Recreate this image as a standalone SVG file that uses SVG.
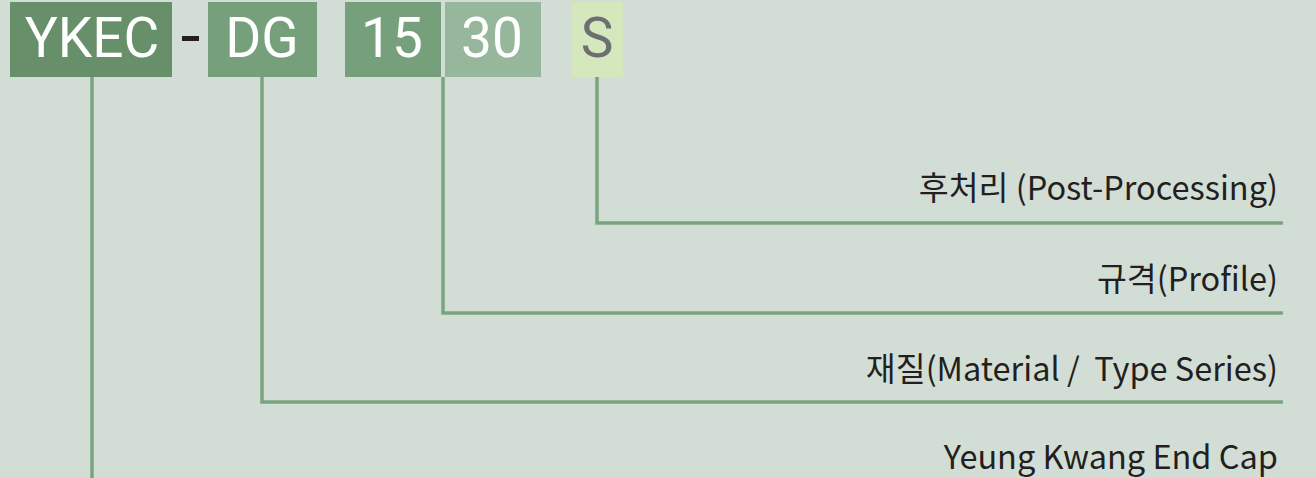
<svg xmlns="http://www.w3.org/2000/svg" width="1316" height="478" viewBox="0 0 1316 478">
<style>
.code{font-family:Roboto,"Liberation Sans",sans-serif;font-size:55px;fill:#ffffff;text-anchor:middle}
.lbl{font-family:"Noto Sans CJK KR","Noto Sans",sans-serif;font-size:32.5px;fill:#231f20;text-anchor:end}
.ln{stroke:#78a47f;stroke-width:3.5;fill:none}
</style>
<rect width="1316" height="478" fill="#d2ded5"/>
<g id="connectors">
<path class="ln" d="M92 77V478"/>
<path class="ln" d="M262 77V402H1283"/>
<path class="ln" d="M443 77V313H1283"/>
<path class="ln" d="M597 77V223H1283"/>
</g>
<g id="ykec"><rect x="10" y="2" width="162" height="75" fill="#668f6a"/><text class="code" x="92" y="57">YKEC</text></g>
<g id="dash"><rect x="182" y="36" width="17" height="5" fill="#231f20"/></g>
<g id="dg"><rect x="208" y="2" width="109" height="75" fill="#75a07b"/><text class="code" x="262" y="57">DG</text></g>
<g id="n15"><rect x="345" y="2" width="96" height="75" fill="#75a07b"/><text class="code" x="392" y="57">15</text></g>
<g id="n30"><rect x="445" y="2" width="96" height="75" fill="#97b79c"/><text class="code" x="492" y="57">30</text></g>
<g id="s"><rect x="572" y="2" width="51" height="75" fill="#d5e7bd"/><text class="code" x="597" y="57" style="fill:#6d6e71">S</text></g>
<g id="label-post"><text class="lbl" x="1278" y="200">후처리 (Post-Processing)</text></g>
<g id="label-profile"><text class="lbl" x="1278" y="291">규격(Profile)</text></g>
<g id="label-material"><text class="lbl" x="1278" y="381" xml:space="preserve">재질(Material /  Type Series)</text></g>
<g id="label-ykec"><text class="lbl" x="1278" y="469">Yeung Kwang End Cap</text></g>
</svg>
